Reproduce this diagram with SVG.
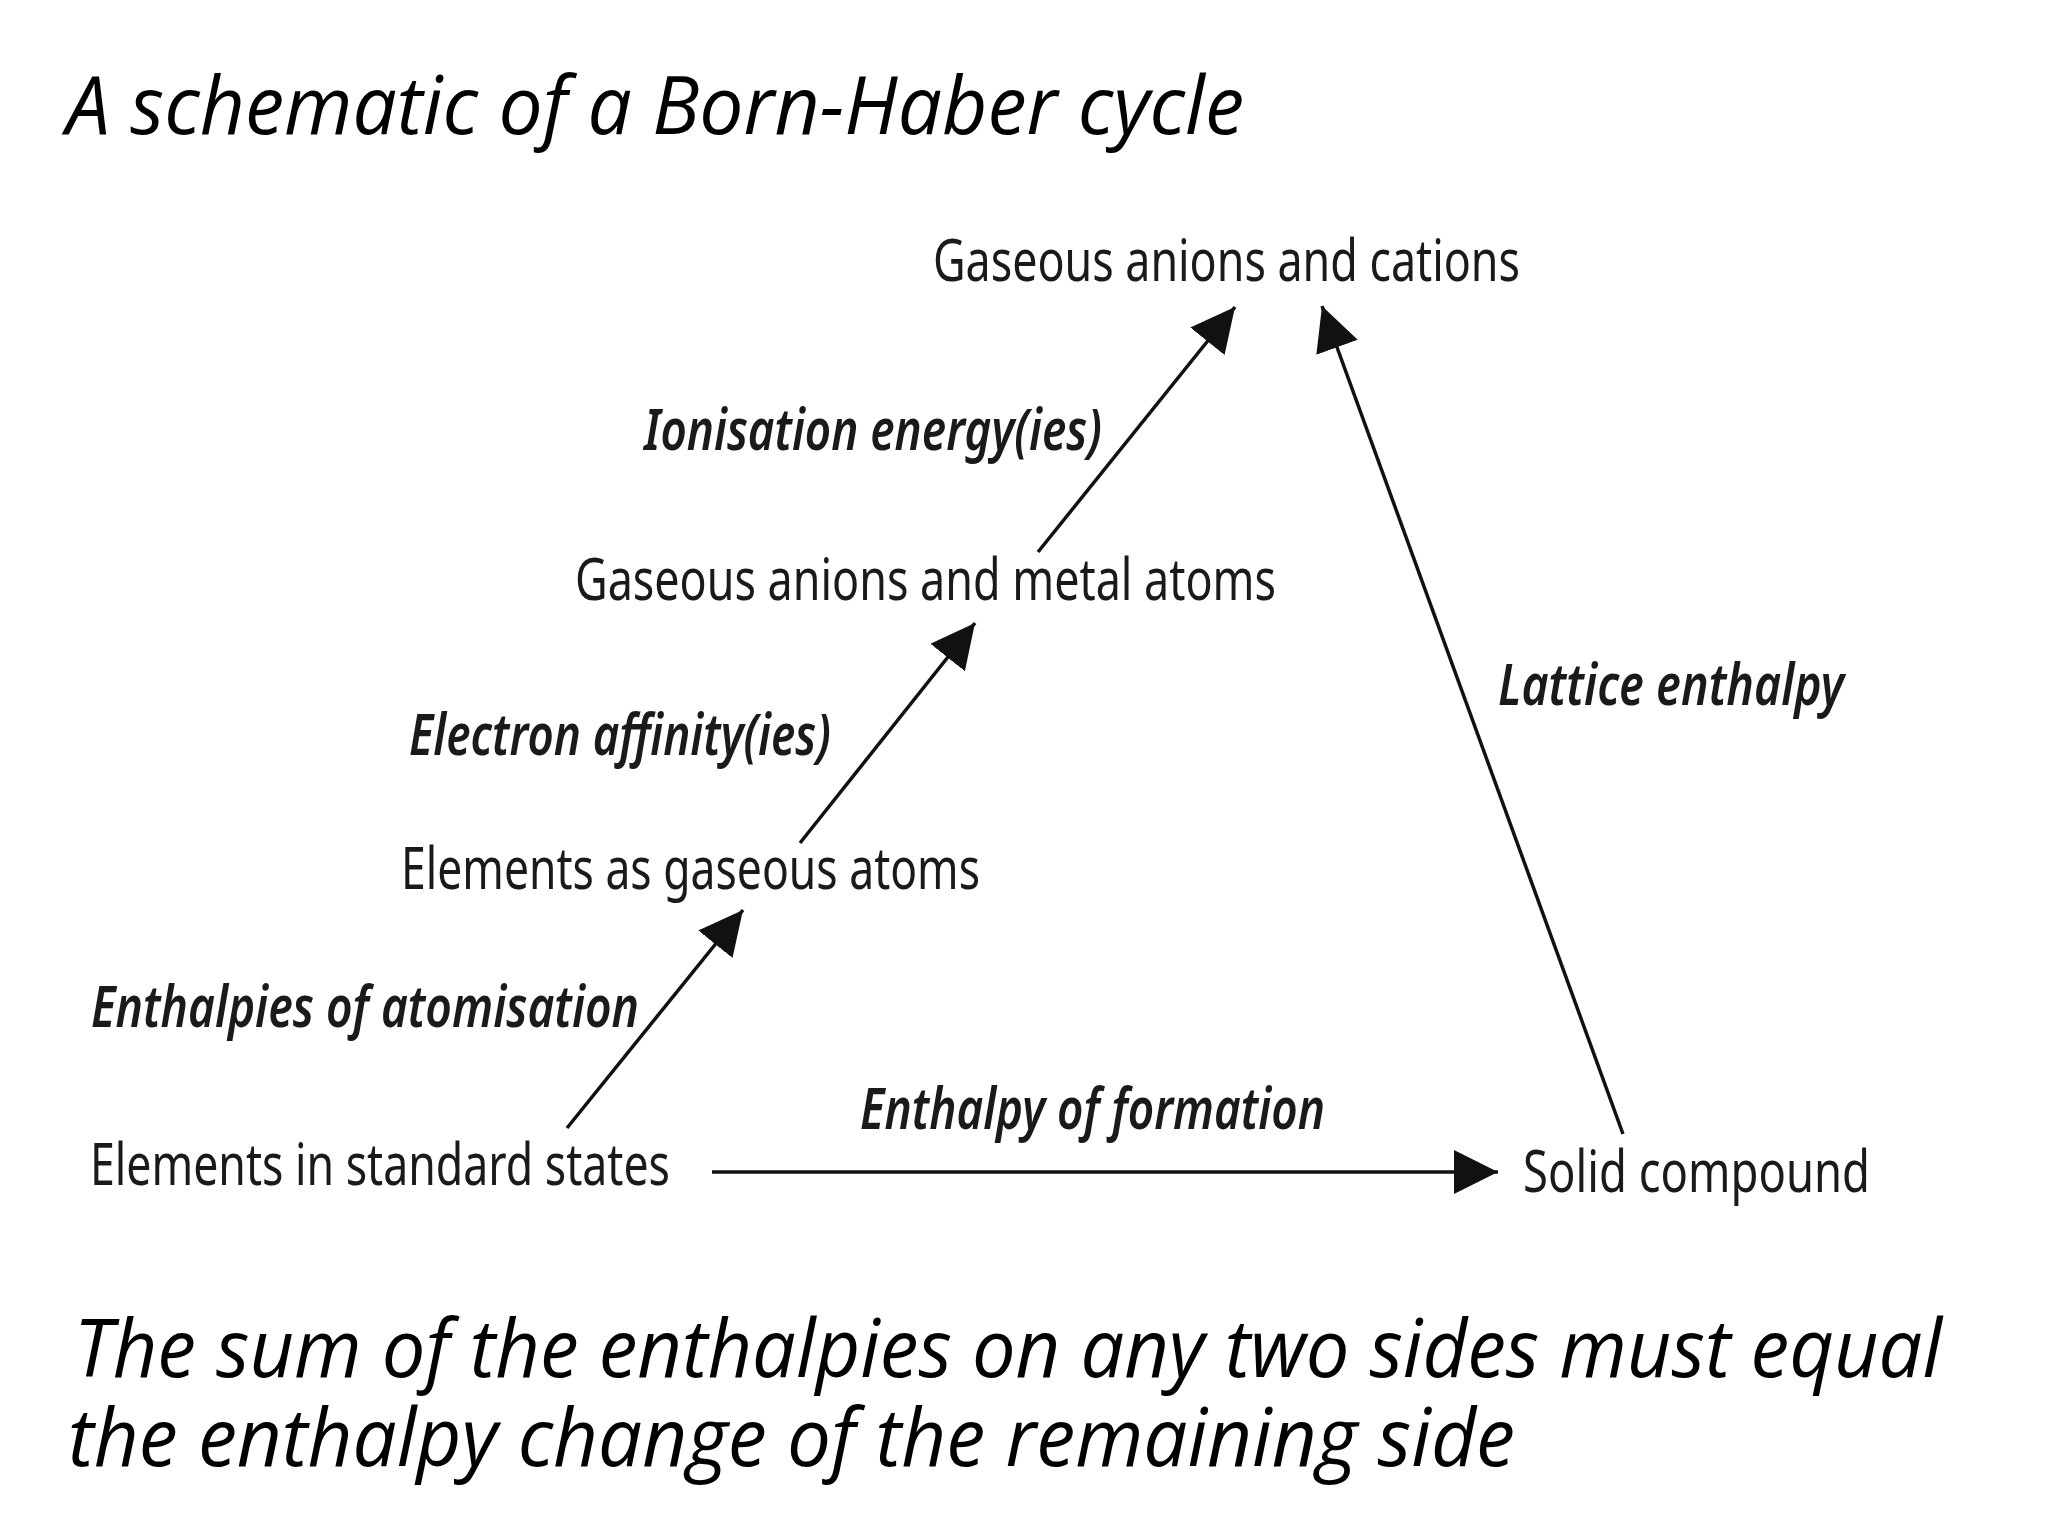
<svg xmlns="http://www.w3.org/2000/svg" width="2048" height="1536" viewBox="0 0 2048 1536">
<style>
.cap{font-family:"Open Sans","Noto Sans",sans-serif;font-style:italic;font-size:80px;fill:#000}
.node{font-family:"Noto Sans","Liberation Sans",sans-serif;font-size:58px;fill:#1a1a1a}
.lbl{font-family:"Noto Sans","Liberation Sans",sans-serif;font-size:58px;font-style:italic;font-weight:600;fill:#1a1a1a}
.con{stroke:#111;stroke-width:3.5;fill:none}
</style>
<defs>
<marker id="ah" markerUnits="userSpaceOnUse" markerWidth="46" markerHeight="46" refX="44" refY="22" orient="auto">
<path d="M0,0 L44,22 L0,44 z" fill="#111"/>
</marker>
</defs>
<rect width="2048" height="1536" fill="#fff"/>
<text class="cap" x="66" y="134" textLength="1178" lengthAdjust="spacingAndGlyphs">A schematic of a Born-Haber cycle</text>
<g id="connectors">
<line class="con" x1="567" y1="1128" x2="743" y2="910" marker-end="url(#ah)"/>
<line class="con" x1="800" y1="843" x2="975" y2="623" marker-end="url(#ah)"/>
<line class="con" x1="1038" y1="552" x2="1235" y2="307" marker-end="url(#ah)"/>
<line class="con" x1="712" y1="1172" x2="1498" y2="1172" marker-end="url(#ah)"/>
<line class="con" x1="1623" y1="1134" x2="1322" y2="306" marker-end="url(#ah)"/>
</g>
<g id="n-cations"><text class="node" x="933" y="281" textLength="587" lengthAdjust="spacingAndGlyphs">Gaseous anions and cations</text></g>
<g id="n-metal"><text class="node" x="575" y="600" textLength="701" lengthAdjust="spacingAndGlyphs">Gaseous anions and metal atoms</text></g>
<g id="n-gaseous"><text class="node" x="401" y="889" textLength="579" lengthAdjust="spacingAndGlyphs">Elements as gaseous atoms</text></g>
<g id="n-standard"><text class="node" x="90" y="1185" textLength="580" lengthAdjust="spacingAndGlyphs">Elements in standard states</text></g>
<g id="n-solid"><text class="node" x="1523" y="1192" textLength="347" lengthAdjust="spacingAndGlyphs">Solid compound</text></g>
<g id="labels">
<text class="lbl" x="644" y="450" textLength="458" lengthAdjust="spacingAndGlyphs">Ionisation energy(ies)</text>
<text class="lbl" x="409" y="755" textLength="422" lengthAdjust="spacingAndGlyphs">Electron affinity(ies)</text>
<text class="lbl" x="91" y="1027" textLength="548" lengthAdjust="spacingAndGlyphs">Enthalpies of atomisation</text>
<text class="lbl" x="860" y="1129" textLength="465" lengthAdjust="spacingAndGlyphs">Enthalpy of formation</text>
<text class="lbl" x="1498" y="705" textLength="346" lengthAdjust="spacingAndGlyphs">Lattice enthalpy</text>
</g>
<text class="cap"><tspan x="74" y="1377" textLength="1868" lengthAdjust="spacingAndGlyphs">The sum of the enthalpies on any two sides must equal</tspan><tspan x="68" y="1466" textLength="1447" lengthAdjust="spacingAndGlyphs">the enthalpy change of the remaining side</tspan></text>
</svg>
